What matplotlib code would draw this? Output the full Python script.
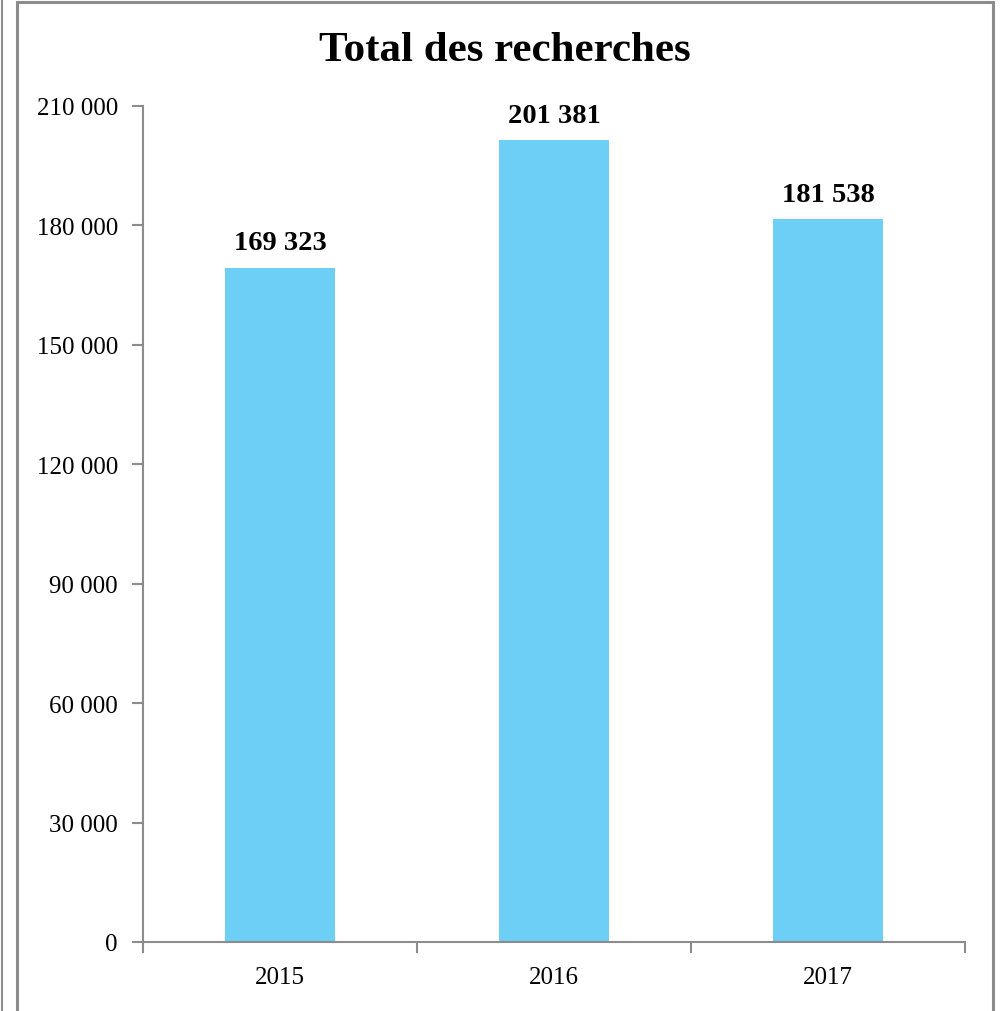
import matplotlib
matplotlib.use('Agg')
import matplotlib.pyplot as plt
from matplotlib.patches import Rectangle
from matplotlib.lines import Line2D

# donnees
annees = ['2015', '2016', '2017']
recherches = [169323, 201381, 181538]
graduations = [0, 30000, 60000, 90000, 120000, 150000, 180000, 210000]

def espace_milliers(v):
    return '{:,}'.format(int(v)).replace(',', ' ')

plt.rcParams['font.family'] = ['Liberation Serif', 'DejaVu Serif']

fig = plt.figure(figsize=(10.02, 10.12), dpi=100)
W, H = 1002, 1012

# cadres gris
fig.add_artist(Rectangle((17 / W, -0.01), (993 - 17) / W, (1012 - 3) / H + 0.01,
                         transform=fig.transFigure, fill=False,
                         edgecolor='#8c8c8c', linewidth=2.2))
fig.add_artist(Line2D([2 / W, 2 / W], [0, 1], transform=fig.transFigure,
                      color='#8c8c8c', linewidth=1.5))

ax = fig.add_axes([143 / W, 1 - 943 / H, (965 - 143) / W, (943 - 107) / H])
x = range(len(annees))
barres = ax.bar(x, recherches, width=0.4, color='#6dcff6')

for i, v in enumerate(recherches):
    ax.text(i, v + 3200, espace_milliers(v), ha='center', va='bottom',
            fontsize=20.5, fontweight='bold')

ax.set_xlim(-0.5, 2.5)
ax.set_ylim(0, 210000)
ax.set_yticks(graduations)
ax.set_yticklabels([espace_milliers(g) for g in graduations], fontsize=18)
ax.set_xticks(x)
ax.set_xticklabels(annees, fontsize=18)
ax.set_xticks([-0.5, 0.5, 1.5, 2.5], minor=True)
ax.tick_params(axis='x', which='major', length=0, pad=17)
ax.tick_params(axis='x', which='minor', length=8, direction='out', color='#8c8c8c', width=1.5)
ax.tick_params(axis='y', length=8, direction='out', color='#8c8c8c', width=1.5, pad=10)

for s in ['top', 'right']:
    ax.spines[s].set_visible(False)
for s in ['left', 'bottom']:
    ax.spines[s].set_color('#8c8c8c')
    ax.spines[s].set_linewidth(1.5)

fig.text(505 / W, 1 - 51 / H, 'Total des recherches', ha='center', va='center',
         fontsize=31, fontweight='bold')

fig.savefig('out.png', dpi=100)
